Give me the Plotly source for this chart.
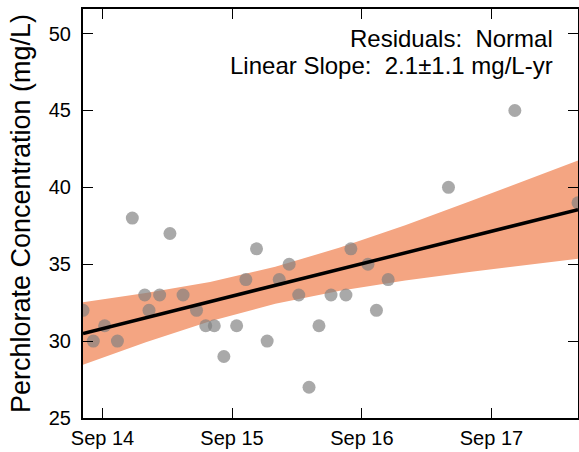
import plotly.graph_objects as go

# Observations (sample date, perchlorate mg/L)
dates = ["2014-07-08", "2014-08-06", "2014-09-07", "2014-10-13", "2014-11-24",
         "2014-12-29", "2015-01-10", "2015-02-09", "2015-03-10", "2015-04-16",
         "2015-05-24", "2015-06-19", "2015-07-13", "2015-08-09", "2015-09-14",
         "2015-10-10", "2015-11-09", "2015-12-09", "2016-01-12", "2016-02-09",
         "2016-03-07", "2016-04-05", "2016-05-03", "2016-06-06", "2016-07-18",
         "2016-08-01", "2016-09-18", "2016-10-12", "2016-11-14", "2017-05-03",
         "2017-11-06", "2018-05-03"]
conc = [32, 30, 31, 30, 38,
        33, 32, 33, 37, 33,
        32, 31, 31, 29, 31,
        34, 36, 30, 34, 35,
        33, 27, 31, 33, 33,
        36, 35, 32, 34, 40,
        45, 39]

# Linear trend end points
fit_dates = ["2014-07-08", "2018-05-03"]
fit_vals = [30.5, 38.55]

# Confidence band
band_dates = ["2014-07-08", "2015-01-01", "2015-07-01", "2016-01-01", "2016-07-01",
              "2017-01-01", "2017-07-01", "2018-01-01", "2018-05-03"]
band_upper = [32.53, 33.13, 33.85, 34.83, 36.09, 37.54, 39.08, 40.67, 41.74]
band_lower = [28.47, 29.93, 31.29, 32.43, 33.28, 33.94, 34.50, 35.03, 35.36]

tick_vals = ["2014-09-01", "2015-09-01", "2016-09-01", "2017-09-01"]
tick_text = ["Sep 14", "Sep 15", "Sep 16", "Sep 17"]
y_ticks = [25, 30, 35, 40, 45, 50]

FONT = "Liberation Sans, Arial, sans-serif"
BAND = "rgb(244,165,130)"

fig = go.Figure()
fig.add_trace(go.Scatter(x=band_dates, y=band_upper, mode="lines",
                         line=dict(width=0, color=BAND), hoverinfo="skip",
                         showlegend=False))
fig.add_trace(go.Scatter(x=band_dates, y=band_lower, mode="lines",
                         line=dict(width=0, color=BAND), fill="tonexty",
                         fillcolor=BAND, hoverinfo="skip", showlegend=False))
fig.add_trace(go.Scatter(x=dates, y=conc, mode="markers",
                         marker=dict(size=13, color="rgba(128,128,128,0.68)",
                                     line=dict(width=0)),
                         showlegend=False, cliponaxis=True))
fig.add_trace(go.Scatter(x=fit_dates, y=fit_vals, mode="lines",
                         line=dict(color="black", width=3.5), showlegend=False))

axis_common = dict(showline=True, linecolor="black", linewidth=2, mirror="ticks",
                   ticks="inside", ticklen=10, tickwidth=1.3, tickcolor="black",
                   showgrid=False, zeroline=False, automargin=False,
                   tickfont=dict(family=FONT, size=20, color="black"))

fig.update_xaxes(type="date", range=[fit_dates[0], fit_dates[1]],
                 tickvals=tick_vals, ticktext=tick_text, ticklabelstandoff=1,
                 **axis_common)
fig.update_yaxes(range=[25, 51.6], tickvals=y_ticks, ticklabelstandoff=6,
                 title=dict(text="Perchlorate Concentration (mg/L)",
                            font=dict(family=FONT, size=27, color="black"),
                            standoff=10),
                 **axis_common)

fig.add_annotation(x=0.9535, y=0.929, xref="paper", yref="paper", xanchor="right",
                   yanchor="middle", showarrow=False, text="Residuals:  Normal",
                   font=dict(family=FONT, size=24, color="black"))
fig.add_annotation(x=0.9535, y=0.863, xref="paper", yref="paper", xanchor="right",
                   yanchor="middle", showarrow=False,
                   text="Linear Slope:  2.1±1.1 mg/L-yr",
                   font=dict(family=FONT, size=24, color="black"))

fig.update_layout(width=579, height=452, plot_bgcolor="white", paper_bgcolor="white",
                  margin=dict(l=83, r=1, t=9, b=34, autoexpand=False), showlegend=False)

fig.write_html("out.html", config={"displayModeBar": False},
               post_script="document.body.style.margin='0';"
                           "document.body.style.overflow='hidden';")
